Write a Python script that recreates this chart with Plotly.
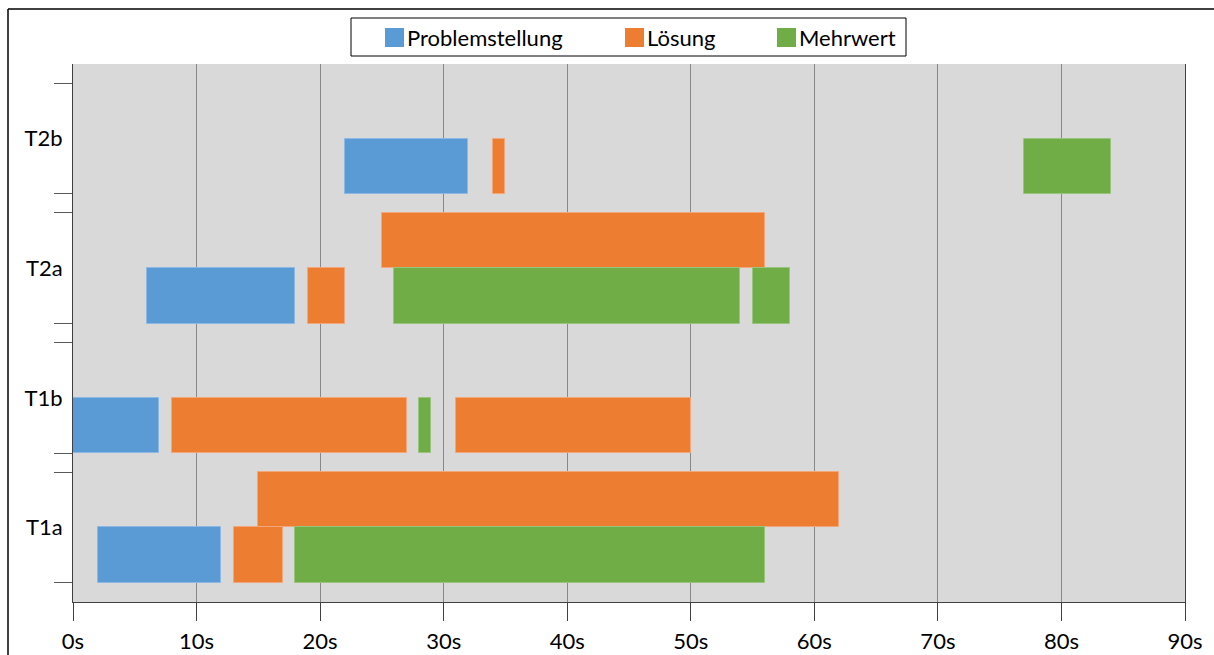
import plotly.graph_objects as go

# Aufgaben (von unten nach oben)
tasks = ["T1a", "T1b", "T2a", "T2b"]

# Zeitabschnitte je Kategorie: Aufgabe, Zeile (0 = unten, 1 = oben), Start [s], Ende [s]
problem_task = ["T1a", "T1b", "T2a", "T2b"]
problem_row = [0, 0, 0, 0]
problem_start = [2, 0, 6, 22]
problem_end = [12, 7, 18, 32]

loesung_task = ["T1a", "T1a", "T1b", "T1b", "T2a", "T2a", "T2b"]
loesung_row = [0, 1, 0, 0, 0, 1, 0]
loesung_start = [13, 15, 8, 31, 19, 25, 34]
loesung_end = [17, 62, 27, 50, 22, 56, 35]

mehrwert_task = ["T1a", "T1b", "T2a", "T2a", "T2b"]
mehrwert_row = [0, 0, 0, 0, 0]
mehrwert_start = [18, 28, 26, 55, 77]
mehrwert_end = [56, 29, 54, 58, 84]

x_ticks = [0, 10, 20, 30, 40, 50, 60, 70, 80, 90]
x_ticktext = [f"{v}s" for v in x_ticks]

series = [
    ("Problemstellung", problem_task, problem_row, problem_start, problem_end, "#5B9BD5", "#8DB8E3"),
    ("Lösung", loesung_task, loesung_row, loesung_start, loesung_end, "#ED7D31", "#F2A679"),
    ("Mehrwert", mehrwert_task, mehrwert_row, mehrwert_start, mehrwert_end, "#70AD47", "#98C47E"),
]

HALF = 0.4275  # halbe Bandhöhe je Aufgabe (Einheiten der y-Achse)

W, H = 1214, 655
ML, MR, MT, MB = 73, 29, 64, 53
PW, PH = W - ML - MR, H - MT - MB


def px(x):
    return (x - ML) / PW


def py(y):
    return (H - MB - y) / PH


FONT = "Lato, 'Open Sans', sans-serif"
FS = 22

fig = go.Figure()
for name, t, row, start, end, color, edge in series:
    fig.add_trace(go.Bar(
        orientation="h",
        name=name,
        y=[tasks.index(v) for v in t],
        x=[e - s for s, e in zip(start, end)],
        base=start,
        width=HALF,
        offset=[-HALF if r == 0 else 0 for r in row],
        marker=dict(color=color, line=dict(color=edge, width=1)),
        showlegend=False,
        hovertemplate=name + ": %{base}s – %{x}s<extra></extra>",
    ))

edges = []
for i in range(len(tasks)):
    edges += [i - HALF, i + HALF]

fig.update_layout(
    width=W, height=H,
    margin=dict(l=ML, r=MR, t=MT, b=MB, autoexpand=False),
    paper_bgcolor="white",
    plot_bgcolor="#D9D9D9",
    barmode="overlay",
    bargap=0,
    font=dict(family=FONT, size=FS, color="#000000"),
    showlegend=False,
    xaxis=dict(
        range=[0, 90], automargin=False,
        tickvals=x_ticks, ticktext=x_ticktext,
        showgrid=True, gridcolor="#888888", gridwidth=1,
        showline=True, linecolor="#404040", linewidth=1,
        ticks="outside", ticklen=18, tickcolor="#404040", tickwidth=1,
        zeroline=False,
        ticklabelstandoff=2,
    ),
    yaxis=dict(
        range=[-0.575, 3.575], automargin=False,
        tickvals=list(range(len(tasks))), ticktext=tasks,
        ticks="", showgrid=False, zeroline=False,
        showline=True, linecolor="#404040", linewidth=1, mirror=True,
        ticklabelstandoff=5,
        minor=dict(tickvals=edges, ticks="outside", ticklen=18,
                   tickcolor="#595959", tickwidth=1, showgrid=False),
    ),
)

shapes = []
annotations = []
# Rahmen um das Diagramm
shapes.append(dict(type="line", xref="paper", yref="paper",
                   x0=px(8), x1=px(8), y0=py(9), y1=py(H),
                   line=dict(color="#000000", width=1.5)))
shapes.append(dict(type="line", xref="paper", yref="paper",
                   x0=px(8), x1=px(W), y0=py(9), y1=py(9),
                   line=dict(color="#000000", width=1.5)))

# Legende
shapes.append(dict(type="rect", xref="paper", yref="paper",
                   x0=px(351), x1=px(906), y0=py(56), y1=py(18),
                   line=dict(color="#000000", width=1), fillcolor="white"))
legend_x = [385, 625, 777]
for (name, *_rest), lx in zip(series, legend_x):
    color = _rest[4]
    shapes.append(dict(type="rect", xref="paper", yref="paper",
                       x0=px(lx), x1=px(lx + 19), y0=py(47), y1=py(28),
                       line=dict(width=0), fillcolor=color))
    annotations.append(dict(xref="paper", yref="paper", x=px(lx + 20), y=py(37.5),
                            text=name, showarrow=False, xanchor="left", yanchor="middle",
                            font=dict(family=FONT, size=FS, color="#000000")))

fig.update_layout(shapes=shapes, annotations=annotations)

fig.write_html("out.html")
